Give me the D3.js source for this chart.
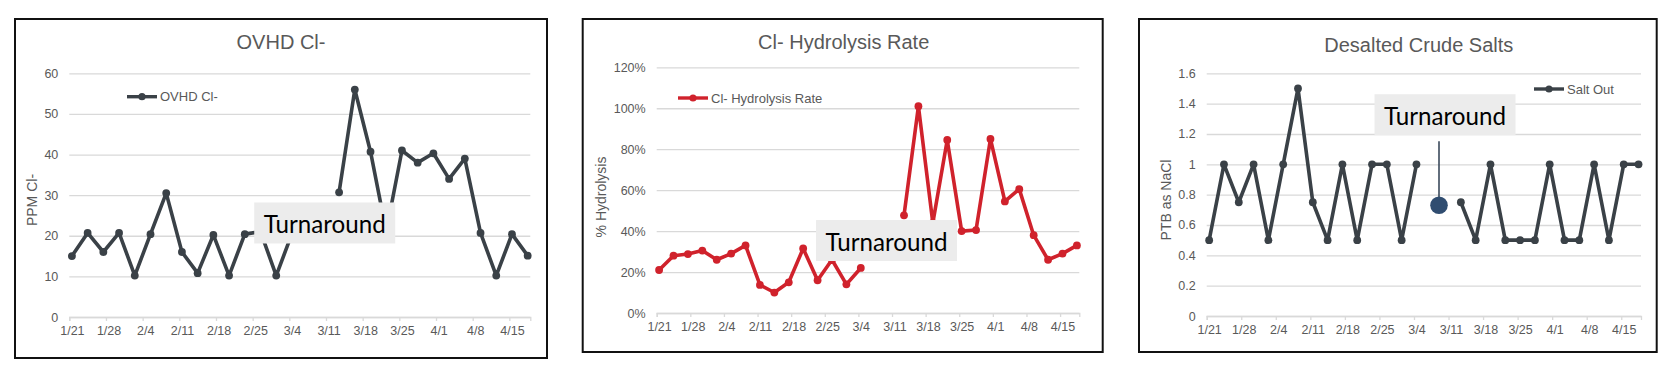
<!DOCTYPE html>
<html>
<head>
<meta charset="utf-8">
<script src="https://cdn.jsdelivr.net/npm/d3@7"></script>
<style>
  html, body { margin: 0; padding: 0; background: #ffffff; }
  svg { display: block; }
  text { font-family: "Liberation Sans", Arial, sans-serif; }
</style>
</head>
<body>
<svg id="chart" width="1676" height="368"></svg>
<script>
// ---------------- DATA ----------------
const dates = ["1/21","1/24","1/27","1/30","2/2","2/5","2/8","2/11","2/14","2/17",
               "2/20","2/23","2/26","3/1","3/4","3/7","3/10","3/13","3/16","3/19",
               "3/22","3/25","3/28","3/31","4/3","4/6","4/9","4/12","4/15","4/18"];
const xAxisStart = "1/21";
const xAxisEnd = "4/19";
const xTickLabels = ["1/21","1/28","2/4","2/11","2/18","2/25","3/4","3/11","3/18","3/25","4/1","4/8","4/15"];

const ovhdCl = [15, 20.7, 16, 20.7, 10.2, 20.4, 30.5, 16, 10.8, 20.2,
                10.2, 20.4, 21, 10.2, 20.5, null, null, 30.7, 56, 40.7,
                21, 41, 38, 40.3, 34, 39, 20.7, 10.2, 20.4, 15.1];
const hydrolysisRate = [0.21, 0.28, 0.288, 0.305, 0.26, 0.29, 0.33, 0.137, 0.10, 0.15,
                        0.315, 0.16, 0.26, 0.14, 0.22, null, null, 0.477, 1.01, 0.44,
                        0.845, 0.40, 0.405, 0.85, 0.545, 0.605, 0.38, 0.26, 0.29, 0.33];
const saltOut = [0.5, 1, 0.75, 1, 0.5, 1, 1.5, 0.75, 0.5, 1,
                 0.5, 1, 1, 0.5, 1, null, null, 0.75, 0.5, 1,
                 0.5, 0.5, 0.5, 1, 0.5, 0.5, 1, 0.5, 1, 1];

const ovhdTicks = [0, 10, 20, 30, 40, 50, 60];
const hydTicks = [0, 0.2, 0.4, 0.6, 0.8, 1.0, 1.2];
const saltTicks = [0, 0.2, 0.4, 0.6, 0.8, 1.0, 1.2, 1.4, 1.6];

const titles = ["OVHD Cl-", "Cl- Hydrolysis Rate", "Desalted Crude Salts"];
const seriesNames = ["OVHD Cl-", "Cl- Hydrolysis Rate", "Salt Out"];
const yTitles = ["PPM Cl-", "% Hydrolysis", "PTB as NaCl"];
const annotationText = "Turnaround";
// annotation anchor (in data units: day offset from axis start, value)
const annotations = [
  {day: 48.76, value: 23.15},
  {day: 47.86, value: 0.354},
  {day: 48.29, value: 1.327, markerDay: 47.07, markerValue: 0.73}
];

// ---------------- HELPERS ----------------
function dayOf(s) {
  const [m, d] = s.split("/").map(Number);
  return d3.timeDay.count(new Date(2022, 0, 1), new Date(2022, m - 1, d));
}
const day0 = dayOf(xAxisStart);
const dayN = dayOf(xAxisEnd) - day0;
const dayIdx = dates.map(s => dayOf(s) - day0);
const tickIdx = xTickLabels.map(s => dayOf(s) - day0);

const svg = d3.select("#chart");
const GRID = "#d9d9d9", TXT = "#595959";

function drawPanel(cfg) {
  const g = svg.append("g");
  // border
  g.append("rect")
    .attr("x", cfg.box[0]).attr("y", cfg.box[1])
    .attr("width", cfg.box[2] - cfg.box[0]).attr("height", cfg.box[3] - cfg.box[1])
    .attr("fill", "#fff").attr("stroke", "#111").attr("stroke-width", 2);

  const x = d3.scaleLinear().domain([0, dayN]).range(cfg.xr);
  const y = d3.scaleLinear().domain([cfg.ticks[0], cfg.ticks[cfg.ticks.length - 1]]).range(cfg.yr);

  // gridlines
  const grid = g.append("g").attr("transform", `translate(${cfg.xr[0]},0)`)
    .call(d3.axisLeft(y).tickValues(cfg.ticks).tickSize(-(cfg.xr[1] - cfg.xr[0])).tickFormat(""));
  grid.select(".domain").remove();
  grid.selectAll("line").attr("stroke", GRID).attr("stroke-width", 1.3);

  // y labels
  const yl = g.append("g").attr("transform", `translate(${cfg.xr[0] - 11},0)`)
    .call(d3.axisLeft(y).tickValues(cfg.ticks).tickSize(0).tickPadding(0).tickFormat(cfg.fmt));
  yl.select(".domain").remove();
  yl.selectAll("text").attr("fill", TXT).style("font-size", "12.5px")
    .style("font-family", '"Liberation Sans", Arial, sans-serif');

  // x ticks
  const xt = g.append("g").attr("transform", `translate(0,${cfg.yr[0]})`)
    .call(d3.axisBottom(x).tickValues(tickIdx).tickSize(4).tickFormat(""));
  xt.select(".domain").attr("stroke", GRID).attr("stroke-width", 1.3);
  xt.selectAll("line").attr("stroke", GRID).attr("stroke-width", 1.3);
  // x labels (centered on day slot)
  const xl = g.append("g").attr("transform", `translate(0,${cfg.yr[0] + 9})`)
    .call(d3.axisBottom(x).tickValues(tickIdx.map(d => d + 0.5)).tickSize(0).tickPadding(0)
      .tickFormat((d, i) => xTickLabels[i]));
  xl.select(".domain").remove();
  xl.selectAll("text").attr("fill", TXT).style("font-size", "12.5px")
    .style("font-family", '"Liberation Sans", Arial, sans-serif');

  // title
  g.append("text").attr("x", cfg.titleX).attr("y", cfg.titleY)
    .attr("text-anchor", "middle").attr("fill", TXT).style("font-size", "20px").text(cfg.title);

  // y axis title
  g.append("text")
    .attr("transform", `translate(${cfg.ytX},${cfg.ytY}) rotate(-90)`)
    .attr("text-anchor", "middle").attr("dominant-baseline", "central")
    .attr("fill", TXT).style("font-size", "14px").text(cfg.yTitle);

  // series
  const pts = cfg.values.map((v, i) => ({d: dayIdx[i] + 0.5, v}));
  const line = d3.line().defined(p => p.v != null).x(p => x(p.d)).y(p => y(p.v));
  g.append("path").datum(pts).attr("d", line)
    .attr("fill", "none").attr("stroke", cfg.color).attr("stroke-width", 3.6)
    .attr("stroke-linejoin", "round").attr("stroke-linecap", "round");
  g.selectAll("circle.pt").data(pts.filter(p => p.v != null)).enter().append("circle")
    .attr("class", "pt").attr("cx", p => x(p.d)).attr("cy", p => y(p.v)).attr("r", 3.9)
    .attr("fill", cfg.color);

  // legend
  const L = cfg.legend;
  g.append("line").attr("x1", L[0]).attr("x2", L[0] + 30).attr("y1", L[1]).attr("y2", L[1])
    .attr("stroke", cfg.color).attr("stroke-width", 3.4);
  g.append("circle").attr("cx", L[0] + 15).attr("cy", L[1]).attr("r", 3.6).attr("fill", cfg.color);
  g.append("text").attr("x", L[0] + 33).attr("y", L[1]).attr("dominant-baseline", "central")
    .attr("fill", TXT).style("font-size", "13px").text(cfg.name);

  // annotation
  const a = cfg.ann;
  const bw = 141, bh = 41;
  const cx = x(a.day), cy = y(a.value);
  if (a.markerDay != null) {
    const mx = x(a.markerDay), my = y(a.markerValue);
    g.append("line").attr("x1", mx).attr("x2", mx).attr("y1", cy + bh / 2 + 6).attr("y2", my)
      .attr("stroke", "#3b4a5c").attr("stroke-width", 1.6);
    g.append("circle").attr("cx", mx).attr("cy", my).attr("r", 8.8).attr("fill", "#304d70");
  }
  g.append("rect").attr("x", cx - bw / 2).attr("y", cy - bh / 2).attr("width", bw).attr("height", bh)
    .attr("fill", "#ececec");
  const t = g.append("text").attr("x", cx).attr("y", cy - bh / 2 + 30.5).attr("text-anchor", "middle")
    .attr("fill", "#000").style("font-family", "Lato, 'Open Sans', sans-serif")
    .style("font-size", "100px").text(annotationText);
  const len = t.node().getComputedTextLength();
  t.style("font-size", (100 * 122 / len).toFixed(2) + "px");
}

drawPanel({
  box: [15, 19, 547, 358], xr: [69.3, 530.3], yr: [317, 73.3], ticks: ovhdTicks,
  fmt: d => d3.format("d")(d), title: titles[0], titleX: 281, titleY: 49,
  yTitle: yTitles[0], ytX: 32, ytY: 200, values: ovhdCl, color: "#3a4147",
  legend: [127, 96.7], name: seriesNames[0], ann: annotations[0]
});
drawPanel({
  box: [582.7, 19, 1102.7, 352], xr: [656.7, 1079.3], yr: [313, 67.3], ticks: hydTicks,
  fmt: d3.format(".0%"), title: titles[1], titleX: 843.7, titleY: 49,
  yTitle: yTitles[1], ytX: 601, ytY: 197, values: hydrolysisRate, color: "#d0222c",
  legend: [678, 98], name: seriesNames[1], ann: annotations[1]
});
drawPanel({
  box: [1139, 19, 1656.7, 352], xr: [1206.7, 1641], yr: [316, 73.3], ticks: saltTicks,
  fmt: d => String(+d.toFixed(1)), title: titles[2], titleX: 1418.8, titleY: 52,
  yTitle: yTitles[2], ytX: 1166, ytY: 200, values: saltOut, color: "#3a4147",
  legend: [1534, 89], name: seriesNames[2], ann: annotations[2]
});
</script>
</body>
</html>
